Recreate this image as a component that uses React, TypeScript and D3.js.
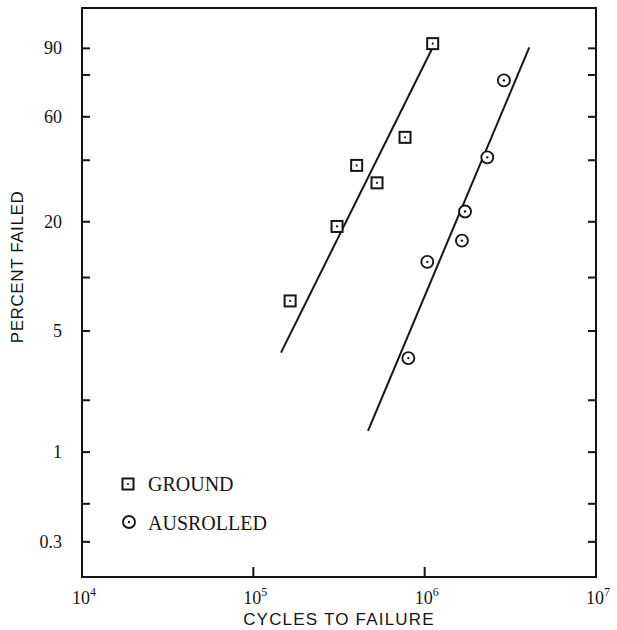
import React, { useEffect, useRef } from 'react';
import * as d3 from 'd3';

// values
const groundCycles = [1.64e5, 3.08e5, 4.01e5, 5.27e5, 7.68e5, 1.114e6];
const groundPercent = [7.4, 18.9, 37.9, 31.4, 50.1, 91.4];
const ausrolledCycles = [8.03e5, 1.036e6, 1.65e6, 1.72e6, 2.32e6, 2.9e6];
const ausrolledPercent = [3.5, 12.2, 15.9, 22.6, 41.2, 77.6];
const groundFitCycles = [1.45e5, 1.119e6];
const groundFitPercent = [3.76, 90.5];
const ausrolledFitCycles = [4.67e5, 4.08e6];
const ausrolledFitPercent = [1.33, 90.3];
const yTicks = [0.3, 0.5, 1, 2, 5, 10, 20, 40, 60, 80, 90];
const yLabels = [0.3, 1, 5, 20, 60, 90];
const xTicks = [1e4, 1e5, 1e6, 1e7];
const xExp = ['4', '5', '6', '7'];

const weib = (p: number) => Math.log(-Math.log(1 - p / 100));

const App = () => {
  const svgRef = useRef<SVGSVGElement>(null);

  useEffect(() => {
    const svg = d3.select(svgRef.current);
    svg.selectAll('*').remove();

    const left = 82, right = 596, top = 8, bottom = 577;
    const x = d3.scaleLog().domain([1e4, 1e7]).range([left, right]);
    const y = d3.scaleLinear().domain([weib(0.187), weib(98.1)]).range([bottom, top]);
    const yp = (p: number) => y(weib(p));

    const serif = '"Liberation Serif", "DejaVu Serif", serif';
    const sans = '"Liberation Sans", Arial, sans-serif';
    const ink = '#151515';

    // frame
    svg.append('rect')
      .attr('x', left).attr('y', top)
      .attr('width', right - left).attr('height', bottom - top)
      .attr('fill', 'none').attr('stroke', ink).attr('stroke-width', 2);

    // y ticks, both sides
    svg.selectAll('.yt')
      .data(yTicks)
      .join('line')
      .attr('x1', left).attr('x2', left + 8)
      .attr('y1', d => yp(d)).attr('y2', d => yp(d))
      .attr('stroke', ink).attr('stroke-width', 2);
    svg.selectAll('.yt2')
      .data(yTicks)
      .join('line')
      .attr('x1', right).attr('x2', right - 8)
      .attr('y1', d => yp(d)).attr('y2', d => yp(d))
      .attr('stroke', ink).attr('stroke-width', 2);

    svg.selectAll('.yl')
      .data(yLabels)
      .join('text')
      .attr('x', 62).attr('y', d => yp(d) + 6)
      .attr('text-anchor', 'end')
      .style('font-family', serif).style('font-size', '18px').attr('fill', ink)
      .text(d => String(d));

    // x ticks
    svg.selectAll('.xt')
      .data(xTicks.slice(1, -1))
      .join('line')
      .attr('x1', d => x(d)).attr('x2', d => x(d))
      .attr('y1', bottom).attr('y2', bottom - 10)
      .attr('stroke', ink).attr('stroke-width', 2);

    const xl = svg.selectAll('.xl')
      .data(xTicks)
      .join('text')
      .attr('x', d => x(d) - 10).attr('y', 604)
      .style('font-family', serif).style('font-size', '18px').attr('fill', ink);
    xl.append('tspan').text('10');
    xl.append('tspan').attr('dy', -8).style('font-size', '12px').text((d, i) => xExp[i]);

    // axis titles
    svg.append('text')
      .attr('x', 339).attr('y', 625).attr('text-anchor', 'middle')
      .style('font-family', sans).style('font-size', '17px').style('letter-spacing', '1.2px')
      .attr('fill', ink)
      .text('CYCLES TO FAILURE');
    svg.append('text')
      .attr('transform', 'translate(23,267) rotate(-90)').attr('text-anchor', 'middle')
      .style('font-family', sans).style('font-size', '17px').style('letter-spacing', '0.6px')
      .attr('fill', ink)
      .text('PERCENT FAILED');

    // fitted lines
    const line = d3.line<[number, number]>()
      .x(d => x(d[0]))
      .y(d => yp(d[1]));
    svg.append('path')
      .datum(d3.zip(groundFitCycles, groundFitPercent) as [number, number][])
      .attr('fill', 'none').attr('stroke', ink).attr('stroke-width', 2)
      .attr('d', line);
    svg.append('path')
      .datum(d3.zip(ausrolledFitCycles, ausrolledFitPercent) as [number, number][])
      .attr('fill', 'none').attr('stroke', ink).attr('stroke-width', 2)
      .attr('d', line);

    const square = (g: any, cx: number, cy: number) => {
      g.append('rect')
        .attr('x', cx - 5.5).attr('y', cy - 5.5).attr('width', 11).attr('height', 11)
        .attr('fill', 'white').attr('stroke', ink).attr('stroke-width', 2);
      g.append('circle').attr('cx', cx).attr('cy', cy).attr('r', 1.1).attr('fill', ink);
    };
    const ring = (g: any, cx: number, cy: number) => {
      g.append('circle')
        .attr('cx', cx).attr('cy', cy).attr('r', 6)
        .attr('fill', 'white').attr('stroke', ink).attr('stroke-width', 1.9);
      g.append('circle').attr('cx', cx).attr('cy', cy).attr('r', 1.2).attr('fill', ink);
    };

    groundCycles.forEach((c, i) => square(svg, x(c), yp(groundPercent[i])));
    ausrolledCycles.forEach((c, i) => ring(svg, x(c), yp(ausrolledPercent[i])));

    // legend
    square(svg, 128, 484);
    ring(svg, 129, 522);
    svg.append('text').attr('x', 148).attr('y', 491)
      .style('font-family', serif).style('font-size', '20px').attr('fill', ink)
      .text('GROUND');
    svg.append('text').attr('x', 148).attr('y', 530)
      .style('font-family', serif).style('font-size', '20px').attr('fill', ink)
      .text('AUSROLLED');
  }, []);

  return (
    <svg ref={svgRef} width={617} height={630}
      style={{ position: 'absolute', left: 0, top: 0, background: 'white' }} />
  );
};

export default App;
